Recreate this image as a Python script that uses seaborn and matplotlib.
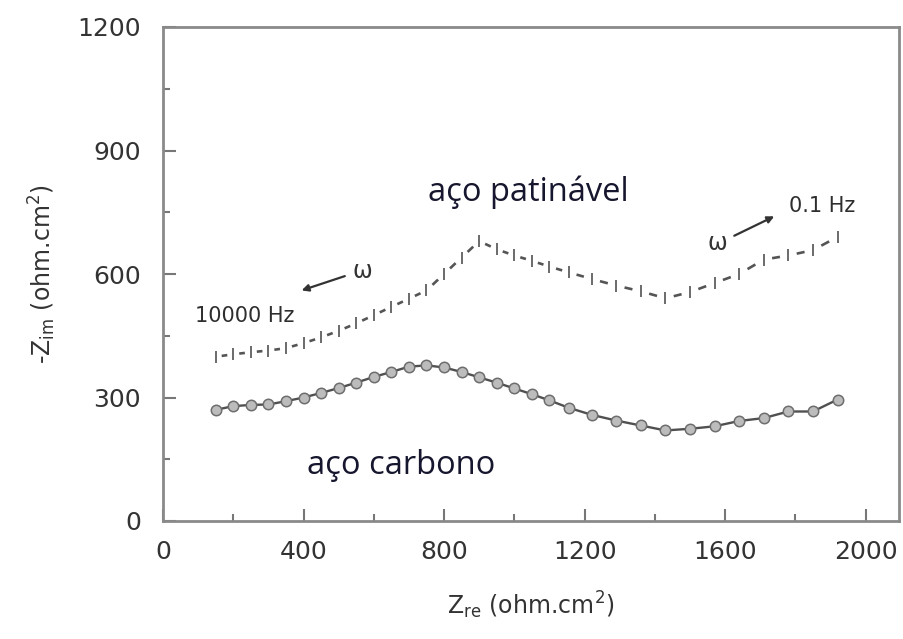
import numpy as np
import pandas as pd
import matplotlib
matplotlib.use("Agg")
import matplotlib.pyplot as plt
import seaborn as sns
from matplotlib.ticker import MultipleLocator

# ---- data ----
z_re = [150, 200, 250, 300, 350, 400, 450, 500, 550, 600, 650, 700, 750, 800,
        850, 900, 950, 1000, 1050, 1100, 1155, 1220, 1290, 1360, 1430, 1500,
        1570, 1640, 1710, 1780, 1850, 1920]
carbono = [270, 279, 282, 283, 291, 300, 311, 323, 336, 350, 362, 375, 378, 373,
           362, 349, 336, 322, 308, 293, 275, 258, 244, 232, 220, 224, 230, 243,
           250, 266, 266, 295]
patinavel = [399, 405, 410, 414, 420, 432, 446, 462, 480, 500, 520, 540, 560, 600,
             640, 680, 660, 645, 632, 618, 604, 588, 572, 558, 541, 556, 578, 600,
             635, 645, 658, 690]
xticks = [0, 400, 800, 1200, 1600, 2000]
yticks = [0, 300, 600, 900, 1200]

df_c = pd.DataFrame({"x": z_re, "y": carbono})
df_p = pd.DataFrame({"x": z_re, "y": patinavel})

sns.set_theme(style="white")
plt.rcParams["font.family"] = ["DejaVu Sans"]
plt.rcParams["mathtext.default"] = "regular"

fig = plt.figure(figsize=(9.04, 6.39), dpi=100)
ax = fig.add_axes([163 / 904, 1 - 521 / 639, (899 - 163) / 904, (521 - 27) / 639])

# carbon steel: solid line with circles
sns.lineplot(data=df_c, x="x", y="y", ax=ax, color="#505050", linewidth=1.7,
             marker="o", markersize=7.5, markerfacecolor="#bcbcbc",
             markeredgecolor="#6e6e6e", markeredgewidth=1.1, sort=False)

# weathering steel: vertical bars at points with short dashes between
sns.lineplot(data=df_p, x="x", y="y", ax=ax, color="#666666", linestyle="none",
             marker="|", markersize=8, markeredgewidth=1.4,
             markeredgecolor="#6a6a6a", sort=False)
px = np.array(z_re, dtype=float)
py = np.array(patinavel, dtype=float)
segx, segy = [], []
for i in range(len(px) - 1):
    a, b = 0.34, 0.66
    segx += [px[i] + a * (px[i + 1] - px[i]), px[i] + b * (px[i + 1] - px[i]), np.nan]
    segy += [py[i] + a * (py[i + 1] - py[i]), py[i] + b * (py[i + 1] - py[i]), np.nan]
ax.plot(segx, segy, color="#555555", linewidth=1.9, solid_capstyle="butt")

ax.set_xlim(0, 2095)
ax.set_ylim(0, 1200)
ax.set_xticks(xticks)
ax.set_yticks(yticks)
ax.xaxis.set_minor_locator(MultipleLocator(200))
ax.yaxis.set_minor_locator(MultipleLocator(150))
ax.tick_params(axis="both", which="major", direction="in", length=9, width=1.5,
               color="#777777", labelsize=18, labelcolor="#333333",
               bottom=True, left=True, top=False, right=False)
ax.tick_params(axis="x", which="major", pad=14)
ax.tick_params(axis="y", which="major", pad=16)
ax.tick_params(axis="both", which="minor", direction="in", length=5, width=1.5,
               color="#777777", bottom=True, left=True, top=False, right=False)
for s in ax.spines.values():
    s.set_color("#8a8a8a")
    s.set_linewidth(2.0)

ax.set_xlabel(r"Z$_{re}$ (ohm.cm$^2$)", fontsize=17, color="#333333", labelpad=18)
ax.set_ylabel(r"-Z$_{im}$ (ohm.cm$^2$)", fontsize=17, color="#333333", labelpad=14)

# annotations
ax.text(1040, 799, "aço patinável", fontsize=23.5, family="Open Sans",
        color="#16162e", ha="center", va="center")
ax.text(677, 134, "aço carbono", fontsize=23.5, family="Open Sans",
        color="#16162e", ha="center", va="center")
ax.text(233, 498, "10000 Hz", fontsize=15, color="#2e2e2e", ha="center",
        va="center")
ax.text(1876, 765, "0.1 Hz", fontsize=15, color="#2e2e2e", ha="center",
        va="center")
ax.text(566, 607, r"$\omega$", fontsize=17, color="#333333", ha="center", va="center")
ax.text(1578, 675, r"$\omega$", fontsize=17, color="#333333", ha="center", va="center")
ax.annotate("", xy=(387, 558), xytext=(525, 597),
            arrowprops=dict(arrowstyle="-|>", color="#333333", lw=1.6,
                            mutation_scale=10))
ax.annotate("", xy=(1747, 743), xytext=(1619, 690),
            arrowprops=dict(arrowstyle="-|>", color="#333333", lw=1.6,
                            mutation_scale=10))

fig.savefig("out.png", dpi=100)
